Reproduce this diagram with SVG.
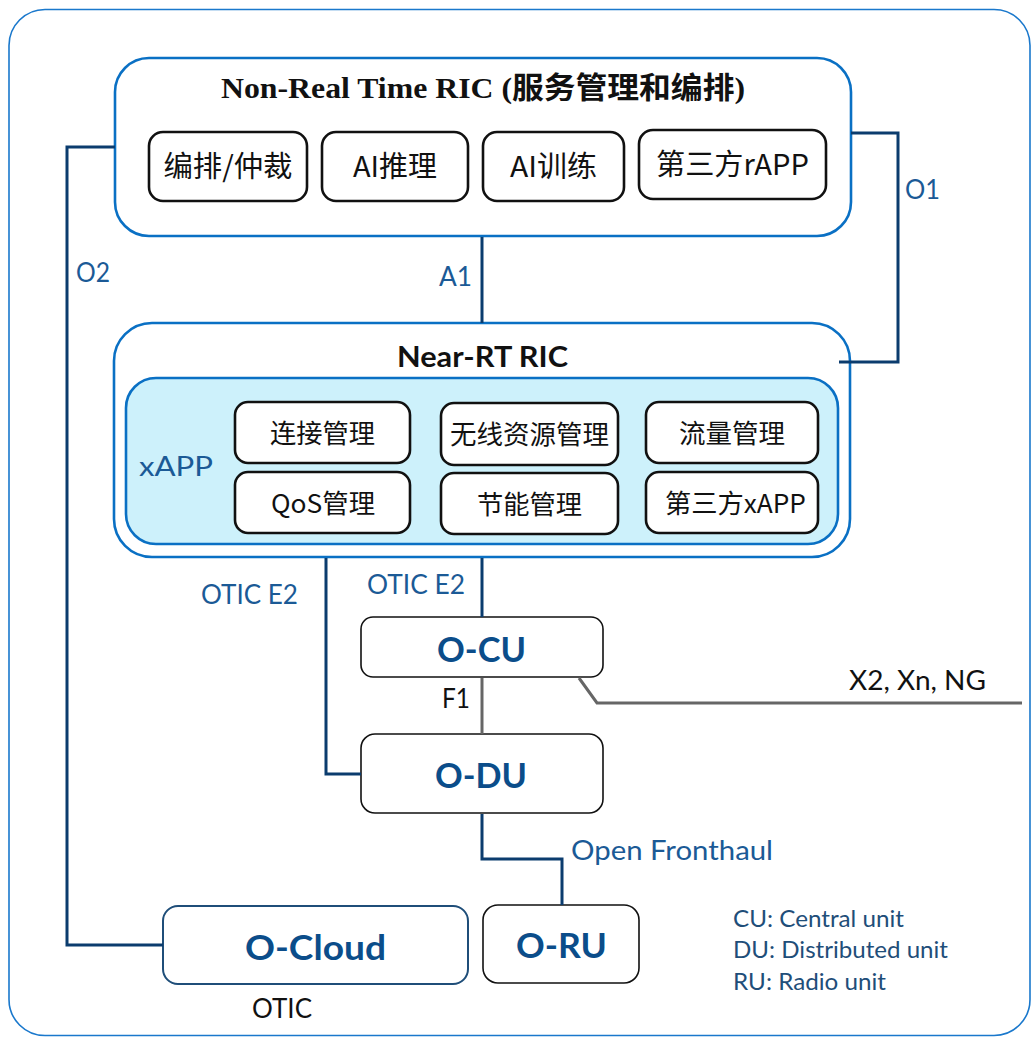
<svg xmlns="http://www.w3.org/2000/svg" width="1033" height="1038" viewBox="0 0 1033 1038">
<style>
.bg{fill:#ffffff}
.frame{fill:#ffffff;stroke:#1a78cc;stroke-width:1.6}
.ric{fill:#ffffff;stroke:#0a70c4;stroke-width:2.6}
.xapp{fill:#cdf1fb;stroke:#0a70c4;stroke-width:2.6}
.sub{fill:#ffffff;stroke:#111111;stroke-width:2.6}
.unit{fill:#ffffff;stroke:#111111;stroke-width:1.6}
.cloud{fill:#ffffff;stroke:#1f4e79;stroke-width:2}
.link{fill:none;stroke:#0b3c6e;stroke-width:3}
.gray{fill:none;stroke:#666666;stroke-width:3}
.cjk{font-family:"Noto Sans CJK SC","Noto Sans",sans-serif;font-size:26px;fill:#111111;text-anchor:middle}
.cjk29{font-size:29px}
.title{font-family:"Liberation Serif","Noto Sans CJK SC",serif;font-weight:bold;font-size:30px;fill:#111111}
.lbl{font-family:Lato,"Liberation Sans",sans-serif;font-size:27px;fill:#1b5a96}
.blk{font-family:Lato,"Liberation Sans",sans-serif;font-size:26px;fill:#111111}
.leg{font-family:Lato,"Liberation Sans",sans-serif;font-size:23px;fill:#1f4e79}
.big{font-family:Lato,"Liberation Sans",sans-serif;font-weight:bold;font-size:35px;fill:#0b4d8a;text-anchor:middle}
.hdr{font-family:Lato,"Liberation Sans",sans-serif;font-weight:bold;font-size:29px;fill:#111111;text-anchor:middle}
</style>
<rect class="bg" x="0" y="0" width="1033" height="1038"/>
<rect class="frame" x="9" y="9.5" width="1021" height="1026" rx="36"/>

<g id="non-rt-ric">
  <rect class="ric" x="115" y="58" width="736" height="178" rx="34"/>
  <text class="title" x="221" y="98" textLength="524" lengthAdjust="spacingAndGlyphs">Non-Real Time RIC (服务管理和编排)</text>
  <g id="nrt-orch"><rect class="sub" x="149" y="132" width="158" height="69" rx="14"/><text class="cjk cjk29" x="228" y="177" textLength="129" lengthAdjust="spacingAndGlyphs">编排/仲裁</text></g>
  <g id="nrt-ai-inf"><rect class="sub" x="322" y="132" width="146" height="69" rx="14"/><text class="cjk cjk29" x="395" y="177" textLength="84" lengthAdjust="spacingAndGlyphs">AI推理</text></g>
  <g id="nrt-ai-train"><rect class="sub" x="483" y="132" width="141" height="69" rx="14"/><text class="cjk cjk29" x="553.5" y="177" textLength="87" lengthAdjust="spacingAndGlyphs">AI训练</text></g>
  <g id="nrt-rapp"><rect class="sub" x="639" y="130" width="187" height="69" rx="14"/><text class="cjk cjk29" x="732.5" y="175" textLength="153" lengthAdjust="spacingAndGlyphs">第三方rAPP</text></g>
</g>

<g id="near-rt-ric">
  <rect class="ric" x="114" y="323" width="736" height="234" rx="38"/>
  <text class="hdr" x="482.5" y="367" textLength="171" lengthAdjust="spacingAndGlyphs">Near-RT RIC</text>
  <rect class="xapp" x="126" y="378" width="712" height="166" rx="30"/>
  <text class="lbl" x="139" y="476" font-size="31" textLength="74" lengthAdjust="spacingAndGlyphs">xAPP</text>
  <g id="x-conn"><rect class="sub" x="235" y="402" width="175" height="61" rx="13"/><text class="cjk" x="322.5" y="443" textLength="105" lengthAdjust="spacingAndGlyphs">连接管理</text></g>
  <g id="x-radio"><rect class="sub" x="441" y="403" width="177" height="62" rx="13"/><text class="cjk" x="529.5" y="444" textLength="159" lengthAdjust="spacingAndGlyphs">无线资源管理</text></g>
  <g id="x-traffic"><rect class="sub" x="646" y="402" width="172" height="61" rx="13"/><text class="cjk" x="732" y="443" textLength="106" lengthAdjust="spacingAndGlyphs">流量管理</text></g>
  <g id="x-qos"><rect class="sub" x="235" y="472" width="175" height="61" rx="13"/><text class="cjk" x="323" y="513" textLength="104" lengthAdjust="spacingAndGlyphs">QoS管理</text></g>
  <g id="x-energy"><rect class="sub" x="441" y="473" width="177" height="61" rx="13"/><text class="cjk" x="529.5" y="514" textLength="105" lengthAdjust="spacingAndGlyphs">节能管理</text></g>
  <g id="x-3rd"><rect class="sub" x="646" y="472" width="172" height="61" rx="13"/><text class="cjk" x="735.5" y="513" textLength="141" lengthAdjust="spacingAndGlyphs">第三方xAPP</text></g>
</g>

<g id="o-cu">
  <rect class="unit" x="361" y="617" width="242" height="60" rx="12"/>
  <text class="big" x="481.5" y="662" textLength="89" lengthAdjust="spacingAndGlyphs">O-CU</text>
</g>
<g id="o-du">
  <rect class="unit" x="361" y="734" width="242" height="79" rx="14"/>
  <text class="big" x="481" y="788" textLength="92" lengthAdjust="spacingAndGlyphs">O-DU</text>
</g>
<g id="o-cloud">
  <rect class="cloud" x="163" y="906" width="305" height="78" rx="15"/>
  <text class="big" x="315.5" y="960" font-size="39" textLength="141" lengthAdjust="spacingAndGlyphs">O-Cloud</text>
  <text class="blk" x="252" y="1018" font-size="27" textLength="60" lengthAdjust="spacingAndGlyphs">OTIC</text>
</g>
<g id="o-ru">
  <rect class="unit" x="483" y="905" width="156" height="78" rx="15"/>
  <text class="big" x="561.5" y="958" textLength="91" lengthAdjust="spacingAndGlyphs">O-RU</text>
</g>

<g id="connectors">
  <path id="o2" class="link" d="M115,147 H67 V945 H163"/>
  <path id="a1" class="link" d="M482,237 V323"/>
  <path id="o1" class="link" d="M851,133 H898 V362 H839"/>
  <path id="e2-du" class="link" d="M326,558 V774 H361"/>
  <path id="e2-cu" class="link" d="M482,558 V617"/>
  <path id="f1" class="gray" d="M482,678 V734"/>
  <path id="x2" class="gray" d="M579,678 L597,703 H1022"/>
  <path id="fronthaul" class="link" d="M482,814 V859 H562 V905"/>
  <text class="lbl" x="76" y="282" textLength="34" lengthAdjust="spacingAndGlyphs">O2</text>
  <text class="lbl" x="439" y="286" textLength="33" lengthAdjust="spacingAndGlyphs">A1</text>
  <text class="lbl" x="905" y="199" textLength="35" lengthAdjust="spacingAndGlyphs">O1</text>
  <text class="lbl" x="201" y="604" font-size="28" textLength="97" lengthAdjust="spacingAndGlyphs">OTIC E2</text>
  <text class="lbl" x="367" y="594" font-size="28" textLength="98" lengthAdjust="spacingAndGlyphs">OTIC E2</text>
  <text class="blk" x="442" y="708" textLength="28" lengthAdjust="spacingAndGlyphs">F1</text>
  <text class="blk" x="849" y="690" font-size="25" textLength="137" lengthAdjust="spacingAndGlyphs">X2, Xn, NG</text>
  <text class="lbl" x="571" y="860" font-size="28" textLength="202" lengthAdjust="spacingAndGlyphs">Open Fronthaul</text>
</g>

<g id="legend">
  <text class="leg" x="733" y="927" textLength="171" lengthAdjust="spacingAndGlyphs">CU: Central unit</text>
  <text class="leg" x="733" y="958" textLength="215" lengthAdjust="spacingAndGlyphs">DU: Distributed unit</text>
  <text class="leg" x="733" y="990" textLength="153" lengthAdjust="spacingAndGlyphs">RU: Radio unit</text>
</g>
</svg>
